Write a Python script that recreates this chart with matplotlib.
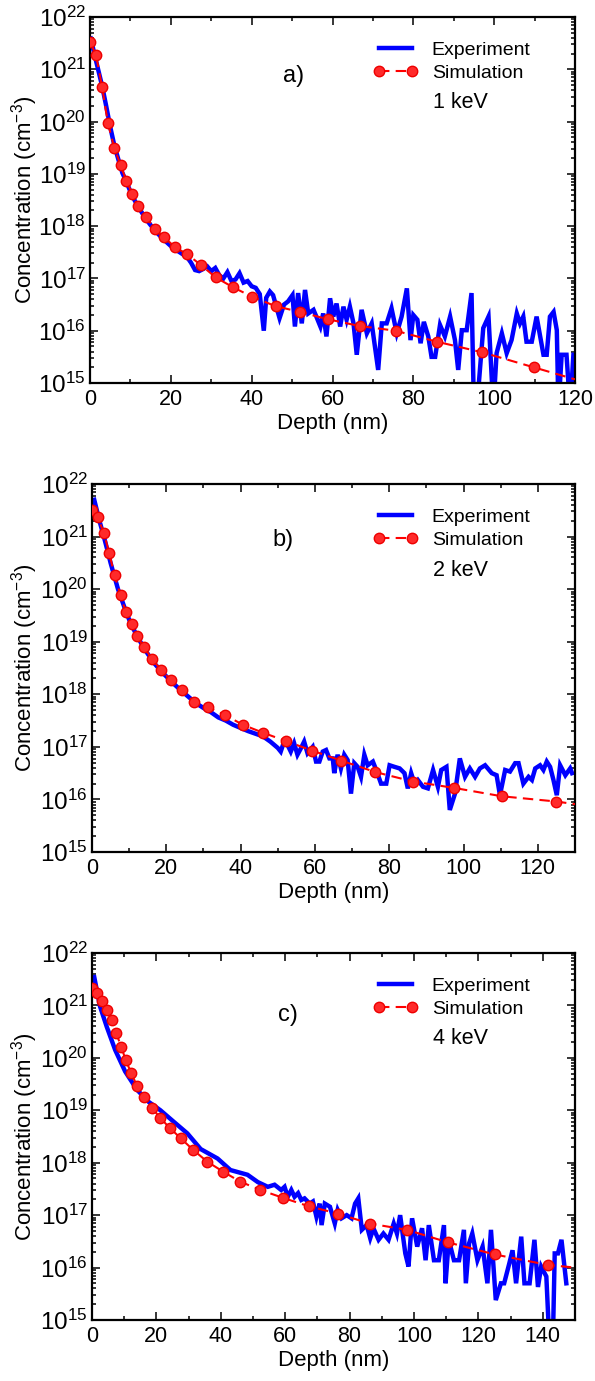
import numpy as np
import matplotlib
matplotlib.use('Agg')
import matplotlib.pyplot as plt
from matplotlib.ticker import LogLocator, NullFormatter, MultipleLocator
from matplotlib.lines import Line2D

plt.rcParams['font.family'] = ['Liberation Sans', 'DejaVu Sans']
plt.rcParams['mathtext.fontset'] = 'custom'
plt.rcParams['mathtext.rm'] = 'Liberation Sans'
plt.rcParams['mathtext.default'] = 'regular'

# ---------------- data (depth in nm, log10 of concentration in cm^-3) ----------------
# Panel a) 1 keV
exp_a_depth = [0.2, 1, 2, 3, 4, 5, 6, 7, 8, 9, 10, 11, 12, 13, 14, 15, 16, 17, 18, 19, 20,
               21, 22, 23, 24, 25, 26, 27, 28, 29, 30, 31, 32, 33, 34, 35, 36, 37, 38, 39, 40,
               41, 42, 43, 43.6, 44.5, 45.3, 46.9, 48, 49, 50.1, 50.7, 51.5, 52.4, 53.2, 54,
               55.3, 56, 57, 57.7, 58.5, 59.4, 60.2, 61, 61.9, 62.7, 63.5, 64.3, 65.2, 66,
               67.2, 68.5, 69.7, 71.3, 72.2, 73.4, 74.6, 75.9, 77.1, 78.4, 79.3, 80, 81, 81.8,
               82.6, 83.7, 84.5, 85.4, 86.6, 87.8, 89.1, 90.3, 91.1, 92, 93.2, 94.4, 95, 95.7,
               97.3, 98.6, 99.8, 100.6, 101.9, 103.1, 104.3, 105.6, 106.4, 107.2, 108, 109.3,
               110.5, 112.2, 113, 113.8, 114.7, 115.5, 115.9, 116.7, 117.9, 118.8, 119.6]
exp_a_log = [21.59, 21.32, 21.0, 20.68, 20.3, 19.9, 19.55, 19.28, 19.02, 18.85, 18.66, 18.5,
             18.36, 18.24, 18.12, 18.02, 17.93, 17.84, 17.76, 17.69, 17.62, 17.56, 17.51, 17.46,
             17.41, 17.3, 17.16, 17.14, 17.18, 17.23, 17.14, 17.2, 17.06, 17.0, 17.12, 16.95,
             16.98, 17.1, 16.92, 16.95, 16.85, 16.82, 16.7, 16.0, 16.63, 16.75, 16.68, 16.24,
             16.5, 16.56, 16.68, 16.08, 16.72, 16.14, 16.78, 16.33, 16.40, 16.27, 16.08, 16.33,
             15.89, 16.62, 16.27, 16.52, 16.08, 16.46, 16.21, 16.46, 16.14, 15.54, 16.40, 15.95,
             16.14, 15.25, 16.14, 16.14, 16.43, 15.95, 16.27, 16.81, 15.82, 16.30, 16.21, 15.76,
             16.17, 15.89, 15.50, 15.50, 16.11, 15.89, 16.27, 15.82, 15.25, 16.01, 16.01, 16.72,
             14.5, 14.5, 16.05, 16.27, 14.5, 15.57, 15.95, 15.57, 15.82, 16.33, 16.14, 16.27,
             15.79, 15.79, 16.27, 15.54, 15.54, 16.27, 16.36, 16.01, 14.5, 15.54, 15.54, 14.5,
             15.54]
sim_a_depth = [0, 1.5, 3.0, 4.4, 6.0, 7.6, 9.0, 10.5, 11.9, 13.9, 16.0, 18.3, 21.0, 23.9, 27.4,
               31.1, 35.4, 40.1, 45.9, 51.9, 58.8, 66.7, 75.6, 85.8, 96.9, 109.8, 120]
sim_a_log = [21.53, 21.27, 20.66, 19.98, 19.5, 19.16, 18.87, 18.61, 18.39, 18.18, 17.95, 17.79,
             17.6, 17.47, 17.26, 17.02, 16.83, 16.65, 16.47, 16.36, 16.22, 16.09, 16.0, 15.79,
             15.59, 15.3, 15.07]

# Panel b) 2 keV
exp_b_depth = [0.6, 2, 3, 4, 5, 6, 7, 8, 9, 10, 11, 12, 13, 14, 15, 16, 17, 18, 19, 20, 22, 24,
               26, 28, 30, 32, 34, 36, 38, 40, 42, 44, 46, 48, 50, 50.8, 51.7, 52.6, 53.5, 54.4,
               55.3, 56.2, 57.1, 58, 59.4, 60.3, 61.2, 62.1, 63, 63.9, 64.8, 65.2, 66.1, 67,
               67.9, 68.8, 69.7, 70.6, 71.5, 72.4, 73.3, 74.2, 75.6, 76.5, 77.8, 79.2, 80.1,
               81.4, 82.8, 84.1, 85, 85.9, 86.8, 87.7, 89.1, 90.4, 91.8, 93.1, 94, 95.4, 96.3,
               97.7, 99, 100.4, 101.7, 103.1, 104.4, 105.8, 107.6, 108.9, 109.8, 111.2, 112.5,
               113.9, 114.8, 116.1, 117.5, 118.4, 119.3, 120.6, 121.5, 122.4, 123.3, 124.2,
               125.1, 126, 127.4, 128.7, 129.2]
exp_b_log = [21.70, 21.3, 21.05, 20.78, 20.5, 20.25, 20.0, 19.8, 19.6, 19.42, 19.27, 19.12, 19.0,
             18.88, 18.77, 18.67, 18.57, 18.49, 18.41, 18.34, 18.2, 18.07, 17.95, 17.83, 17.74,
             17.66, 17.56, 17.5, 17.42, 17.36, 17.3, 17.25, 17.2, 17.1, 16.98, 16.91, 17.10,
             17.04, 16.91, 17.07, 16.85, 16.97, 17.10, 16.88, 17.0, 16.72, 16.72, 16.91, 16.94,
             16.78, 16.78, 16.5, 16.85, 16.59, 16.85, 16.75, 16.11, 16.69, 16.62, 16.43, 16.85,
             16.65, 16.72, 16.56, 16.3, 16.3, 16.65, 16.62, 16.59, 16.5, 16.21, 16.5, 16.3,
             16.37, 16.24, 16.21, 16.56, 16.24, 16.56, 16.62, 15.8, 16.11, 16.78, 16.43, 16.59,
             16.43, 16.59, 16.65, 16.5, 16.46, 16.08, 16.56, 16.53, 16.69, 16.69, 16.3, 16.43,
             16.37, 16.59, 16.65, 16.56, 16.72, 16.62, 16.37, 16.08, 16.65, 16.46, 16.59, 16.5]
sim_b_depth = [0, 1.5, 3.2, 4.6, 6.1, 7.7, 9.1, 10.7, 12.2, 14.05, 16.2, 18.5, 21.2, 24.2, 27.4,
               31.3, 35.7, 40.6, 46.0, 52.2, 59.2, 67.0, 76.3, 86.4, 97.4, 110.3, 125.0, 130]
sim_b_log = [21.5, 21.37, 21.07, 20.69, 20.26, 19.88, 19.56, 19.33, 19.1, 18.89, 18.67, 18.47,
             18.27, 18.08, 17.86, 17.75, 17.61, 17.42, 17.27, 17.11, 16.93, 16.74, 16.52, 16.34,
             16.22, 16.06, 15.96, 15.91]

# Panel c) 4 keV
exp_c_depth = [0.7, 2.5, 4.6, 7.2, 10.3, 14, 17.6, 21.25, 25.4, 29.6, 33.75, 39, 43, 48.3,
               51.5, 54.6, 56.7, 58.75, 59.8, 60.8, 61.9, 62.9, 64, 65, 66, 67.6, 68.6, 69.7,
               70.7, 71.3, 72.3, 73.9, 75.4, 76.3, 77.5, 79.1, 80.6, 81.7, 82.7, 83.8, 85.3,
               86.4, 87.4, 89, 90.5, 92.1, 93.7, 94.7, 95.7, 97.3, 98.3, 99.4, 101, 102.5,
               103.6, 104.6, 106.2, 107.7, 109.3, 109.8, 110.8, 112.4, 114, 115.5, 116.1,
               117.1, 118.1, 119.7, 121.3, 122.8, 123.9, 125.4, 127, 128, 129.6, 130.6, 131.7,
               133.3, 134.3, 135.9, 137.4, 138.5, 139.5, 141.1, 142.1, 143.1, 143.7, 144.7,
               145.8, 147.3]
exp_c_log = [21.54, 20.98, 20.59, 20.15, 19.74, 19.39, 19.16, 19.0, 18.78, 18.56, 18.26, 18.08,
             17.86, 17.77, 17.63, 17.54, 17.58, 17.48, 17.54, 17.35, 17.48, 17.35, 17.42, 17.29,
             17.32, 17.22, 17.26, 16.97, 17.22, 16.81, 17.22, 17.16, 16.84, 17.10, 16.94, 17.0,
             16.94, 17.22, 17.32, 16.72, 16.81, 16.56, 16.75, 16.53, 16.65, 16.53, 16.84, 16.65,
             17.0, 16.27, 16.02, 16.94, 16.40, 16.75, 16.14, 16.81, 16.14, 16.14, 16.81, 15.70,
             16.53, 16.14, 16.14, 16.72, 15.70, 16.46, 16.65, 16.14, 16.40, 15.70, 16.72, 15.38,
             15.70, 15.70, 16.08, 16.33, 15.70, 16.59, 15.70, 15.70, 16.53, 15.63, 16.02, 15.83,
             14.5, 14.5, 16.27, 16.27, 16.53, 15.70]
sim_c_depth = [0, 1.6, 3.0, 4.6, 6.1, 7.5, 9.1, 10.5, 12.2, 14.0, 16.0, 18.7, 21.25, 24.2, 27.5,
               31.3, 35.8, 40.7, 46.0, 52.3, 59.3, 67.3, 76.3, 86.2, 97.8, 110.6, 125.1, 141.6,
               150]
sim_c_log = [21.33, 21.24, 21.09, 20.91, 20.72, 20.47, 20.21, 19.95, 19.71, 19.46, 19.25, 19.04,
             18.85, 18.66, 18.47, 18.25, 18.02, 17.83, 17.64, 17.48, 17.33, 17.17, 17.03, 16.84,
             16.72, 16.48, 16.25, 16.05, 16.0]

panel_labels = ['a)', 'b)', 'c)']
energies = ['1 keV', '2 keV', '4 keV']
x_max = [120, 130, 150]

# ---------------- figure ----------------
W, H = 595, 1381
fig = plt.figure(figsize=(W / 100, H / 100), dpi=100)
rects = [(90, 17, 575, 383), (92, 484, 575, 852), (92, 953, 575, 1320)]

BLUE = '#0000ff'
RED = '#ff0000'

datasets = [
    (exp_a_depth, exp_a_log, sim_a_depth, sim_a_log),
    (exp_b_depth, exp_b_log, sim_b_depth, sim_b_log),
    (exp_c_depth, exp_c_log, sim_c_depth, sim_c_log),
]

for i, ((ed, el, sd, sl), (x0, y0, x1, y1)) in enumerate(zip(datasets, rects)):
    aw, ah = x1 - x0, y1 - y0
    ax = fig.add_axes([x0 / W, 1 - y1 / H, aw / W, ah / H])
    ax.plot(ed, 10 ** np.array(el), color=BLUE, lw=3.2, solid_joinstyle='miter', zorder=2)
    ax.plot(sd, 10 ** np.array(sl), color=RED, lw=1.5, ls=(0, (5, 3)), zorder=3)
    ax.plot(sd[:-1], 10 ** np.array(sl[:-1]), ls='none', marker='o', ms=7.5,
            mfc='#ff2a2a', mec='#ee0000', mew=1.0, zorder=4)
    ax.set_yscale('log')
    ax.set_xlim(0, x_max[i])
    ax.set_ylim(1e15, 1e22)
    ax.yaxis.set_major_locator(LogLocator(base=10, numticks=20))
    ax.yaxis.set_minor_locator(LogLocator(base=10, subs=np.arange(2, 10), numticks=20))
    ax.yaxis.set_minor_formatter(NullFormatter())
    ax.xaxis.set_major_locator(MultipleLocator(20))
    ax.xaxis.set_minor_locator(MultipleLocator(10))
    ax.tick_params(which='both', direction='in', top=True, right=True, width=1.1, color='black')
    ax.tick_params(which='major', length=6)
    ax.tick_params(which='minor', length=3)
    ax.tick_params(axis='x', which='major', labelsize=15.5, pad=4)
    ax.tick_params(axis='y', which='major', labelsize=17.5, pad=3)
    for sp in ax.spines.values():
        sp.set_linewidth(1.6)
    ax.set_xlabel('Depth (nm)', fontsize=16)
    ax.xaxis.set_label_coords(0.5, -30 / ah)
    ax.set_ylabel('Concentration (cm$^{-3}$)', fontsize=16)
    ax.yaxis.set_label_coords((40 - x0) / aw, 0.5)

    handles = [Line2D([], [], color=BLUE, lw=3.2),
               Line2D([], [], color=RED, lw=1.5, ls=(0, (5, 3)), marker='o', ms=7.5,
                      mfc='#ff2a2a', mec='#ee0000', mew=1.0)]
    ax.legend(handles, ['Experiment', 'Simulation'], loc='upper left',
              bbox_to_anchor=((373 - x0) / aw, 1 - 24 / ah), frameon=False, fontsize=14,
              numpoints=2, handlelength=2.3, handletextpad=0.72, labelspacing=0.3,
              borderpad=0, borderaxespad=0)
    ax.text((433 - x0) / aw, 1 - 86 / ah, energies[i], transform=ax.transAxes, fontsize=15.5,
            ha='left', va='center')
    lab_pos = [(0.42, 0.84), (0.395, 0.848), (0.405, 0.83)][i]
    ax.text(lab_pos[0], lab_pos[1], panel_labels[i], transform=ax.transAxes, fontsize=17,
            ha='center', va='center')

fig.savefig('out.png', dpi=100)
